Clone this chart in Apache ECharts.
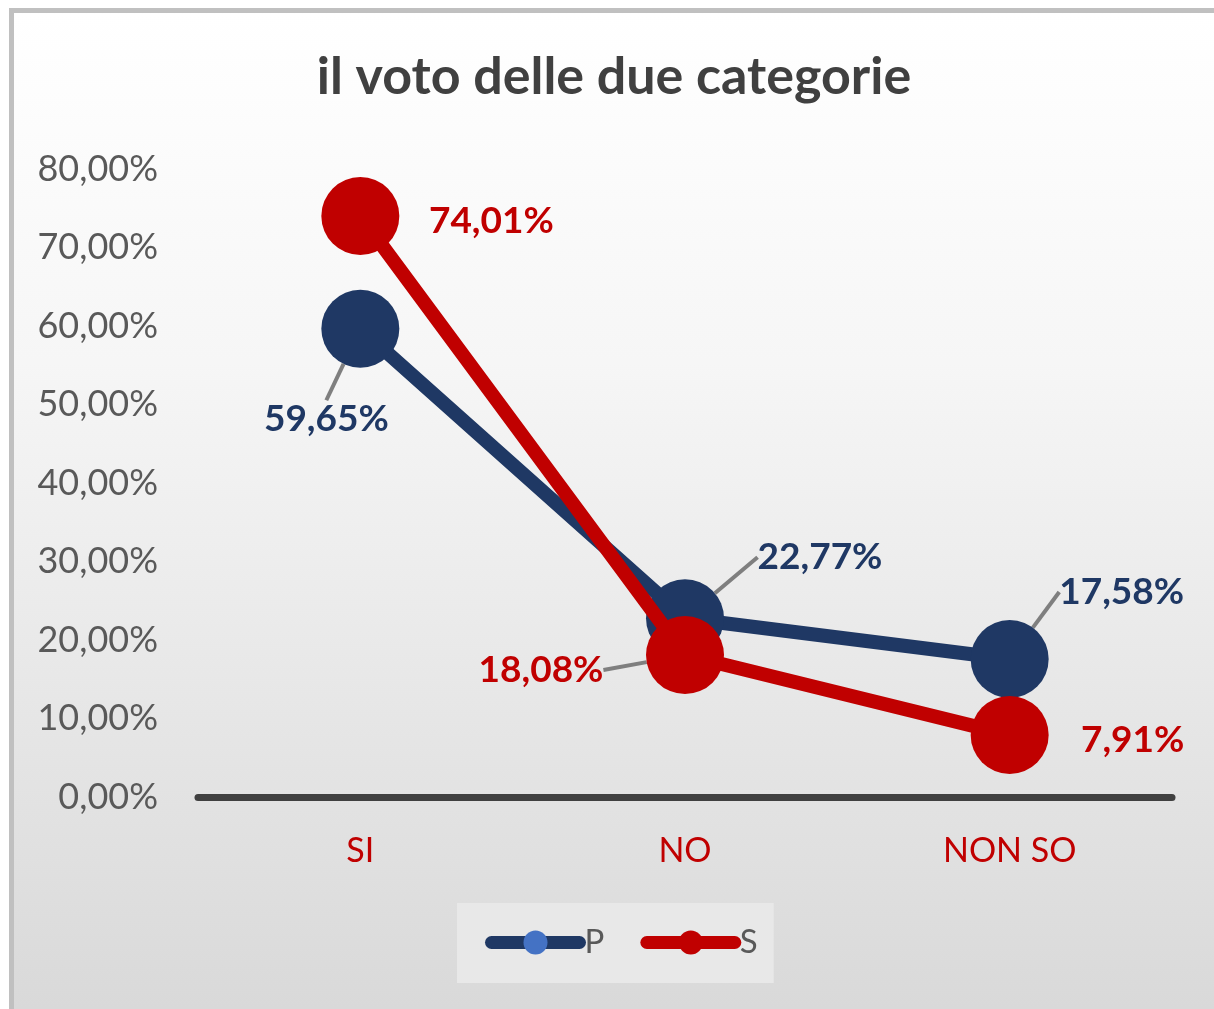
<!DOCTYPE html>
<html>
<head>
<meta charset="utf-8">
<script src="https://cdn.jsdelivr.net/npm/echarts@6/dist/echarts.min.js"></script>
<style>
  html, body { margin: 0; padding: 0; background: #ffffff; }
  #chart {
    position: absolute; left: 9px; top: 8px;
    width: 1205px; height: 1001px;
    box-sizing: border-box;
    border-top: 5px solid #c0c0c0;
    border-left: 5px solid #c0c0c0;
  }
</style>
</head>
<body>
<div id="chart"></div>
<script>
var categories = ['SI', 'NO', 'NON SO'];
var valuesP = [59.65, 22.77, 17.58];
var valuesS = [74.01, 18.08, 7.91];
var yTicks = { min: 0, max: 80, interval: 10 };

// label offsets from the point centre (px)
var offsetsP = [[-34, 90], [135, -61], [112, -67]];
var offsetsS = [[131, 5], [-144, 15], [123, 5]];

var FONT = 'Lato';
function pct(v) { return v.toFixed(2).replace('.', ',') + '%'; }

function makeData(values, hideLine) {
    return values.map(function (v, i) {
        var d = { value: v };
        if (hideLine.indexOf(i) >= 0) d.labelLine = { show: false };
        return d;
    });
}

var myChart = echarts.init(document.getElementById('chart'));
myChart.setOption({
    backgroundColor: {
        type: 'linear', x: 0, y: 0, x2: 0, y2: 1,
        colorStops: [
            { offset: 0, color: '#ffffff' },
            { offset: 0.35, color: '#f6f6f6' },
            { offset: 1, color: '#d9d9d9' }
        ]
    },
    title: {
        text: 'il voto delle due categorie',
        left: 'center',
        top: 33,
        textStyle: { fontFamily: FONT, fontSize: 52, fontWeight: 'bold', color: '#404040' }
    },
    legend: {
        bottom: 26,
        left: 443,
        data: [
            { name: 'P', itemStyle: { color: '#4472c4' } },
            { name: 'S' }
        ],
        itemWidth: 88,
        itemHeight: 30,
        itemGap: 36,
        padding: [23, 16, 24, 28],
        backgroundColor: '#e8e8e8',
        lineStyle: { width: 13, cap: 'round' },
        textStyle: { fontFamily: FONT, fontSize: 33, color: '#595959' }
    },
    grid: { left: 184, right: 42, top: 156, bottom: 212 },
    xAxis: {
        type: 'category',
        data: categories,
        boundaryGap: true,
        axisLine: { lineStyle: { color: '#404040', width: 7 } },
        axisTick: { show: false },
        axisLabel: { fontFamily: FONT, fontSize: 34, color: '#c00000', margin: 37 }
    },
    yAxis: {
        type: 'value',
        min: yTicks.min,
        max: yTicks.max,
        interval: yTicks.interval,
        axisLine: { show: false },
        axisTick: { show: false },
        splitLine: { show: false },
        axisLabel: {
            fontFamily: FONT, fontSize: 36, color: '#595959', margin: 40,
            formatter: function (v) { return pct(v); }
        }
    },
    series: [
        {
            name: 'P',
            type: 'line',
            data: makeData(valuesP, []),
            symbol: 'circle',
            symbolSize: 78,
            color: '#1f3864',
            lineStyle: { width: 14, color: '#1f3864' },
            itemStyle: { color: '#1f3864' },
            label: {
                show: true,
                position: 'inside',
                fontFamily: FONT, fontSize: 37, fontWeight: 'bold', color: '#1f3864',
                formatter: function (p) { return pct(p.value); }
            },
            labelLine: { show: true, lineStyle: { color: '#7f7f7f', width: 4 } },
            labelLayout: function (p) {
                var o = offsetsP[p.dataIndex];
                return { dx: o[0], dy: o[1] };
            },
            z: 2
        },
        {
            name: 'S',
            type: 'line',
            data: makeData(valuesS, [0, 2]),
            symbol: 'circle',
            symbolSize: 78,
            color: '#c00000',
            lineStyle: { width: 14, color: '#c00000' },
            itemStyle: { color: '#c00000' },
            label: {
                show: true,
                position: 'inside',
                fontFamily: FONT, fontSize: 37, fontWeight: 'bold', color: '#c00000',
                formatter: function (p) { return pct(p.value); }
            },
            labelLine: { show: true, lineStyle: { color: '#7f7f7f', width: 4 } },
            labelLayout: function (p) {
                var o = offsetsS[p.dataIndex];
                return { dx: o[0], dy: o[1] };
            },
            z: 3
        }
    ]
});
</script>
</body>
</html>
